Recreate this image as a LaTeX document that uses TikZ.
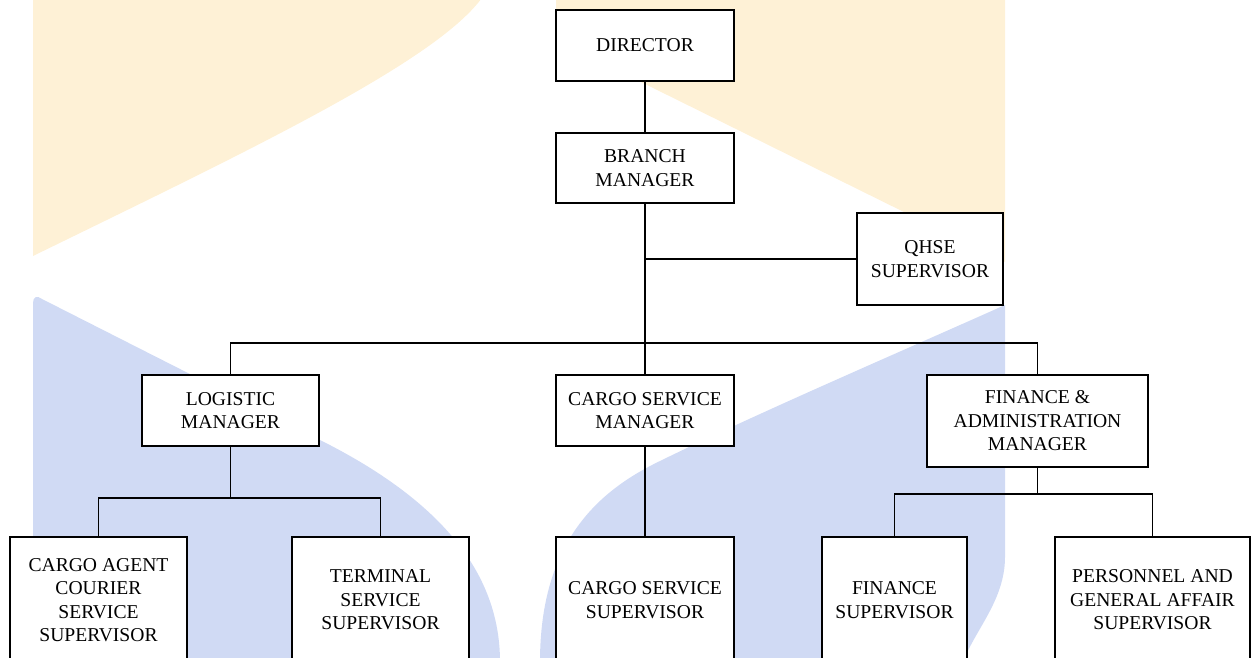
\documentclass[tikz,border=0pt]{standalone}
\usepackage{fontspec}
\setmainfont{Liberation Serif}
\definecolor{wmorange}{RGB}{254,241,214}
\definecolor{wmblue}{RGB}{208,218,244}

\begin{document}
\begin{tikzpicture}[x=1pt, y=-1pt, line join=miter,
  post/.style={draw, line width=1.8pt, fill=white, align=center, inner sep=0pt,
               font=\fontsize{19.6}{23.5}\selectfont},
  link/.style={line width=1.3pt}]

\clip (0,0) rectangle (1256,658);

% logo in the background
\fill[wmorange] (33,-5) -- (33,256) .. controls (250,150) and (440,60) .. (484,-5) -- cycle;
\fill[wmorange] (556,-5) -- (1005,-5) -- (1005,262) -- (556,40) -- cycle;
\fill[wmblue] (33,662) -- (33,303) .. controls (33,297) and (37,295) .. (42,299)
   -- (320,440) .. controls (450,505) and (500,580) .. (500,662) -- cycle;
\fill[wmblue] (540,662) .. controls (540,540) and (600,490) .. (660,461)
   .. controls (760,412) and (900,352) .. (1005,305) -- (1005,557)
   .. controls (1005,600) and (975,630) .. (963,662) -- cycle;

% top
\node[post, minimum width=178, minimum height=71] (director) at (645,45.5) {DIRECTOR};
\node[post, minimum width=178, minimum height=70] (branch) at (645,168) {BRANCH\\MANAGER};
\node[post, minimum width=146, minimum height=92] (qhse) at (930,259) {QHSE\\SUPERVISOR};

% managers
\node[post, minimum width=177, minimum height=71] (logistic) at (230.5,410.5) {LOGISTIC\\MANAGER};
\node[post, minimum width=178, minimum height=71] (cargomgr) at (645,410.5) {CARGO SERVICE\\MANAGER};
\node[post, minimum width=221, minimum height=92] (finmgr) at (1037.5,421) {FINANCE \&\\ADMINISTRATION\\MANAGER};

% supervisors
\node[post, minimum width=177, minimum height=126] (agent) at (98.5,600) {CARGO AGENT\\COURIER\\SERVICE\\SUPERVISOR};
\node[post, minimum width=177, minimum height=126] (terminal) at (380.5,600) {TERMINAL\\SERVICE\\SUPERVISOR};
\node[post, minimum width=178, minimum height=126] (cargosup) at (645,600) {CARGO SERVICE\\SUPERVISOR};
\node[post, minimum width=145, minimum height=126] (finsup) at (894.5,600) {FINANCE\\SUPERVISOR};
\node[post, minimum width=195, minimum height=126] (personnel) at (1152.5,600) {PERSONNEL AND\\GENERAL AFFAIR\\SUPERVISOR};

\coordinate (qjoin) at (645,259);
\coordinate (bus) at (645,343);
\coordinate (lbus) at (230.5,498);
\coordinate (fbus) at (1037.5,494);

\draw[link] (director) -- (branch);
\draw[link] (branch) -- (bus);
\draw[link] (qjoin) -- (qhse);
\draw[link] (logistic.north) |- (bus) -| (finmgr.north);
\draw[link] (bus) -- (cargomgr);
\draw[link] (logistic) -- (lbus);
\draw[link] (agent.north) |- (lbus) -| (terminal.north);
\draw[link] (cargomgr) -- (cargosup);
\draw[link] (finmgr) -- (fbus);
\draw[link] (finsup.north) |- (fbus) -| (personnel.north);

\end{tikzpicture}
\end{document}
